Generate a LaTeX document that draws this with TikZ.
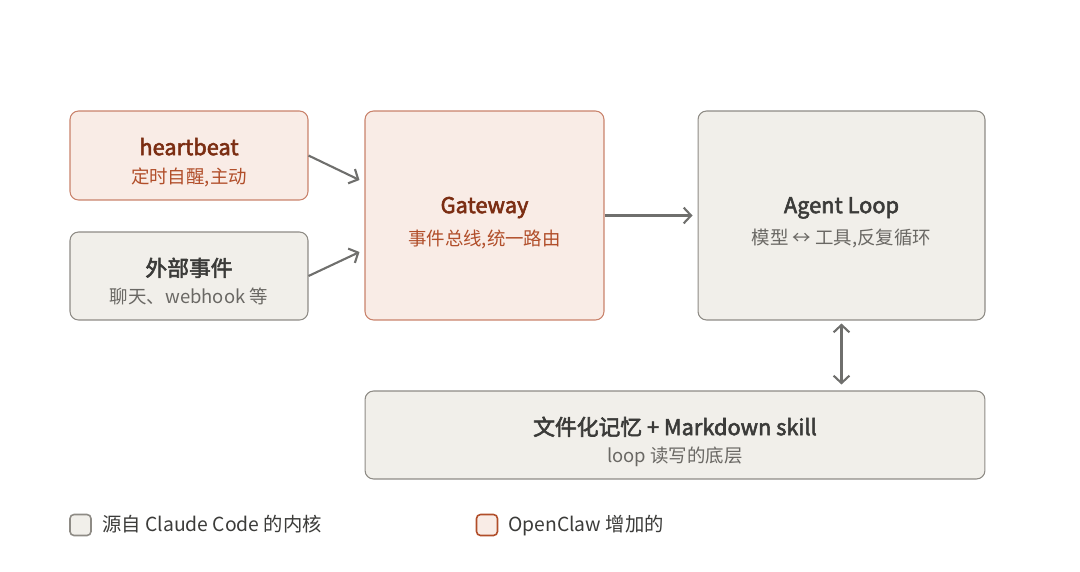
\documentclass[tikz,border=0pt]{standalone}
\usepackage{fontspec}
\setmainfont{Noto Sans CJK SC}[BoldFont={Noto Sans CJK SC},BoldFeatures={FakeBold=2.6}]
\usetikzlibrary{arrows.meta}
\definecolor{newfill}{HTML}{F9ECE6}
\definecolor{newline}{HTML}{C9826B}
\definecolor{newtitle}{HTML}{7B2D12}
\definecolor{newsub}{HTML}{B14E2A}
\definecolor{corefill}{HTML}{F1EFEA}
\definecolor{coreline}{HTML}{8E8B85}
\definecolor{coretitle}{HTML}{3B3B39}
\definecolor{coresub}{HTML}{6A6864}
\definecolor{arrowgray}{HTML}{6F6F6D}
\tikzset{
  corebox/.style={draw=coreline, fill=corefill, line width=0.6pt, rounded corners=0.17cm, inner sep=0pt},
  newbox/.style={draw=newline, fill=newfill, line width=0.6pt, rounded corners=0.17cm, inner sep=0pt},
  titletext/.style={font=\fontsize{12.4}{14}\selectfont\bfseries, inner sep=0pt, text height=0.75em, text depth=0.05em},
  subtext/.style={font=\fontsize{10.5}{12}\selectfont, inner sep=0pt, text height=0.8em, text depth=0.05em},
  coretitle/.style={titletext, text=coretitle},
  coresub/.style={subtext, text=coresub},
  newtitle/.style={titletext, text=newtitle},
  newsub/.style={subtext, text=newsub},
  flow/.style={draw=arrowgray, line width=1.2pt, -{Straight Barb[length=4.2pt,width=9pt]}},
  legendtext/.style={text=coretitle, font=\fontsize{11}{13}\selectfont, anchor=west, inner sep=0pt, text height=0.8em, text depth=0.05em}
}
\begin{document}
\begin{tikzpicture}[x=0.02cm,y=-0.02cm]
\useasboundingbox (0,0) rectangle (1080,572);
\node[newbox, minimum width=4.76cm, minimum height=1.78cm] (hb) at (189,155.5) {};
\node[newtitle] (hbT) at (189,149) {heartbeat};
\node[newsub] (hbS) at (189,177) {定时自醒,主动};
\node[corebox, minimum width=4.76cm, minimum height=1.76cm] (ext) at (189,276) {};
\node[coretitle] (extT) at (189,270) {外部事件};
\node[coresub] (extS) at (189,297) {聊天、webhook 等};
\node[newbox, minimum width=4.78cm, minimum height=4.18cm] (gw) at (484.5,215.5) {};
\node[newtitle] (gwT) at (484.5,207) {Gateway};
\node[newsub] (gwS) at (484.5,239) {事件总线,统一路由};
\node[corebox, minimum width=5.74cm, minimum height=4.18cm] (loop) at (841.5,215.5) {};
\node[coretitle] (loopT) at (841.5,207) {Agent Loop};
\node[coresub] (loopS) at (841.5,238) {模型 ↔ 工具,反复循环};
\node[corebox, minimum width=12.4cm, minimum height=1.76cm] (mem) at (675,435) {};
\node[coretitle] (memT) at (675,429) {文件化记忆 + Markdown skill};
\node[coresub] (memS) at (675,456) {loop 读写的底层};
\draw[flow] (hb.east) -- ([shift={(-5,-35.5)}]gw.west);
\draw[flow] (ext.east) -- ([shift={(-5,36.5)}]gw.west);
\draw[flow] (gw.east) -- ([xshift=-0.1cm]loop.west);
\draw[flow, {Straight Barb[length=4.2pt,width=9pt]}-{Straight Barb[length=4.2pt,width=9pt]}] ([yshift=-0.06cm]loop.south) -- ([yshift=0.12cm]mem.north -| loop.south);
\node[corebox, line width=0.9pt, rounded corners=0.08cm, minimum size=0.42cm] (lgcore) at (80.5,525) {};
\node[legendtext] (lgcoreT) at (102,525) {源自 Claude Code 的内核};
\node[newbox, draw=newsub, line width=0.9pt, rounded corners=0.08cm, minimum size=0.42cm] (lgnew) at (487,525) {};
\node[legendtext] (lgnewT) at (508,525) {OpenClaw 增加的};
\end{tikzpicture}
\end{document}
